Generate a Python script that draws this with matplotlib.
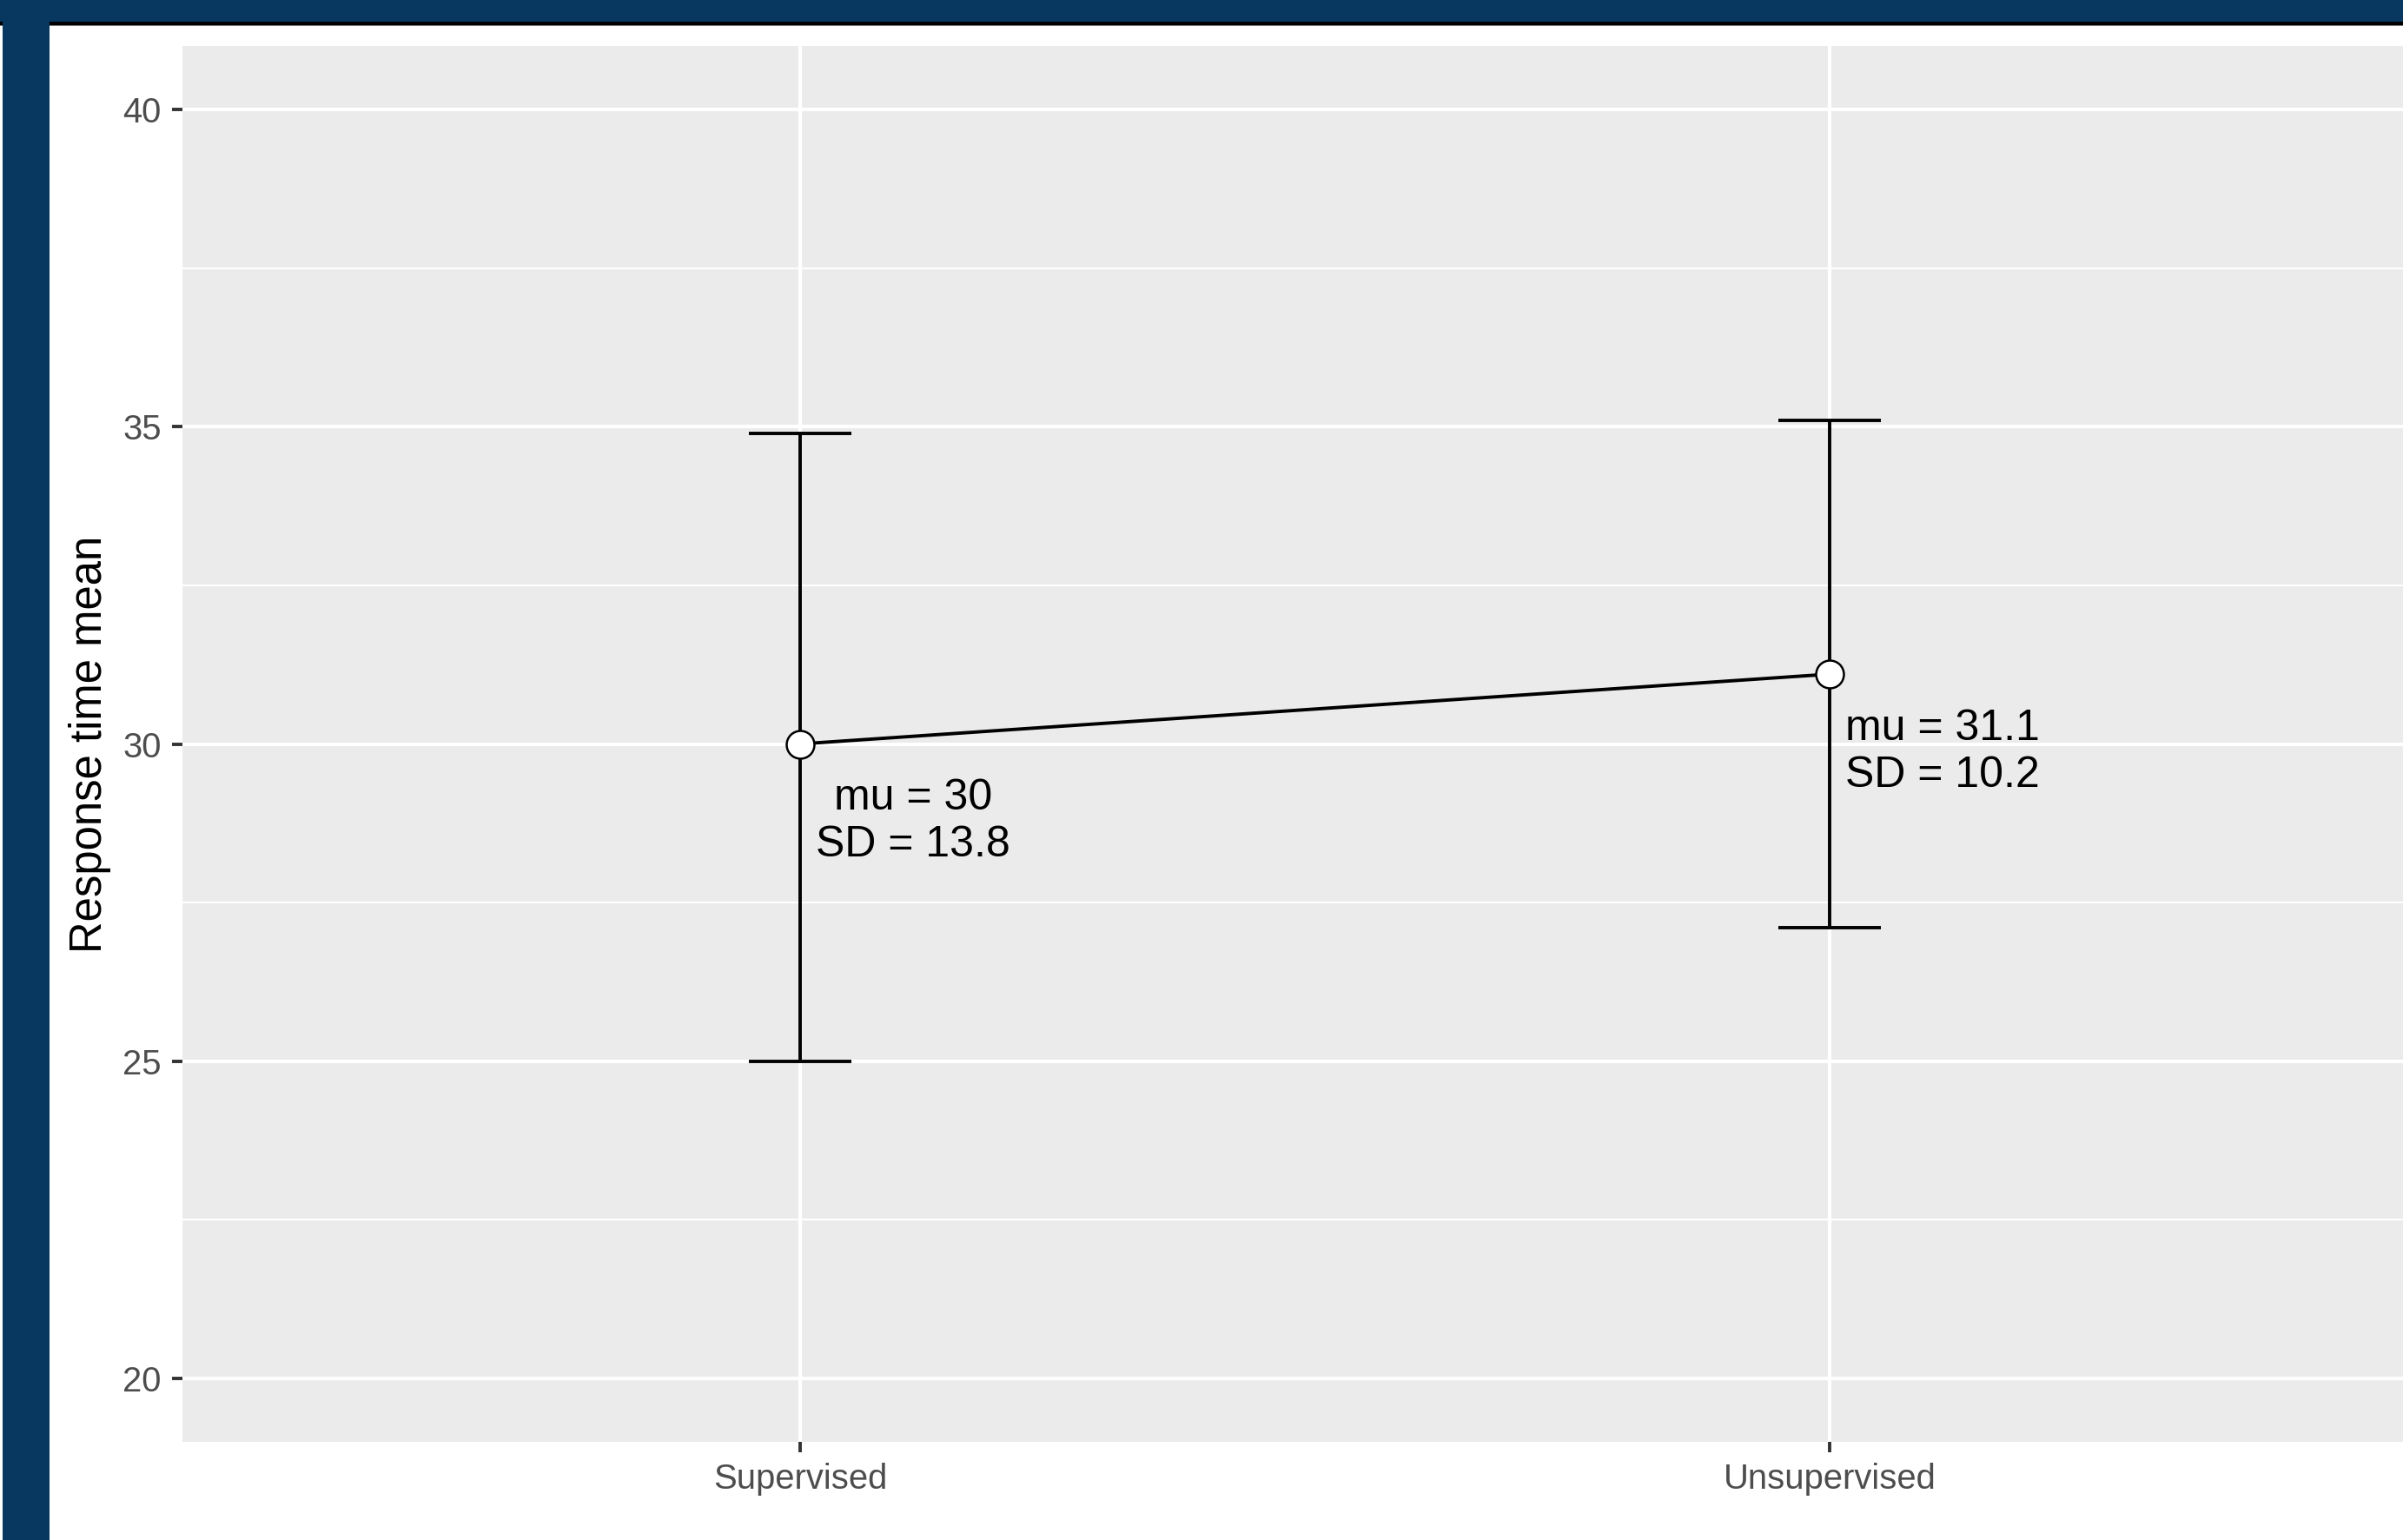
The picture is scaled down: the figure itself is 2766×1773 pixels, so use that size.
import numpy as np
import matplotlib.pyplot as plt
from matplotlib.patches import Rectangle

plt.rcParams['font.family'] = ['Liberation Sans', 'DejaVu Sans']

grupos = ['Supervised', 'Unsupervised']
medias = [30.0, 31.1]
ic_inf = [25.0, 27.1]
ic_sup = [34.9, 35.1]
desvios = [13.8, 10.2]
y_ticks = [20, 25, 30, 35, 40]

W, H = 2766, 1773
dpi = 200
fig = plt.figure(figsize=(W / dpi, H / dpi), dpi=dpi, facecolor='white')

# painel estilo ggplot, passa da borda direita como no original
ax = fig.add_axes([210 / W, (H - 1660) / H, (2817 - 210) / W, (1660 - 53) / H])
ax.set_facecolor('#EBEBEB')
for s in ax.spines.values():
    s.set_visible(False)

x = np.arange(1, len(grupos) + 1)
ax.set_xlim(0.4, len(grupos) + 0.6)
ax.set_ylim(19.0, 41.0)

ax.set_yticks(y_ticks)
ax.set_yticks([22.5, 27.5, 32.5, 37.5], minor=True)
ax.set_xticks(x)
ax.set_xticklabels(grupos)
ax.grid(which='major', color='white', linewidth=1.5)
ax.grid(which='minor', axis='y', color='white', linewidth=0.75)
ax.set_axisbelow(True)
ax.tick_params(which='major', length=4.3, width=1.4, color='#333333',
               labelsize=14.4, labelcolor='#4D4D4D', pad=4.5)
ax.tick_params(which='minor', length=0)

# linha entre médias, barras de erro e pontos
lw = 1.4
ax.plot(x, medias, color='black', linewidth=lw, zorder=3)
ax.vlines(x, ic_inf, ic_sup, color='black', linewidth=lw, zorder=3)
ax.hlines(ic_inf, x - 0.05, x + 0.05, color='black', linewidth=lw, zorder=3)
ax.hlines(ic_sup, x - 0.05, x + 0.05, color='black', linewidth=lw, zorder=3)
ax.plot(x, medias, linestyle='none', marker='o', markersize=11.5,
        markerfacecolor='white', markeredgecolor='black', markeredgewidth=0.9, zorder=4)

for xi, m, sd in zip(x, medias, desvios):
    ax.text(xi + 0.11, m - 1.23, f'mu = {m:g}\nSD = {sd}', ha='center', va='center',
            fontsize=18, color='black', linespacing=1.22, zorder=5)

fig.text(104 / W, 1 - 857 / H, 'Response time mean', rotation=90, ha='center', va='center',
         fontsize=18.3, color='black')

# moldura azul do slide
azul = '#08375F'
fig.add_artist(Rectangle((0, 1 - 29 / H), 1, 4 / H, transform=fig.transFigure,
                         facecolor='black', edgecolor='none'))
fig.add_artist(Rectangle((0, 1 - 30 / H), 1, 1 / H, transform=fig.transFigure,
                         facecolor='#808080', edgecolor='none'))
fig.add_artist(Rectangle((0, 1 - 25 / H), 1, 25 / H, transform=fig.transFigure,
                         facecolor=azul, edgecolor='none'))
fig.add_artist(Rectangle((3 / W, 0), 54 / W, 1 - 25 / H, transform=fig.transFigure,
                         facecolor=azul, edgecolor='none'))

fig.savefig('out.png', dpi=dpi, facecolor='white')
